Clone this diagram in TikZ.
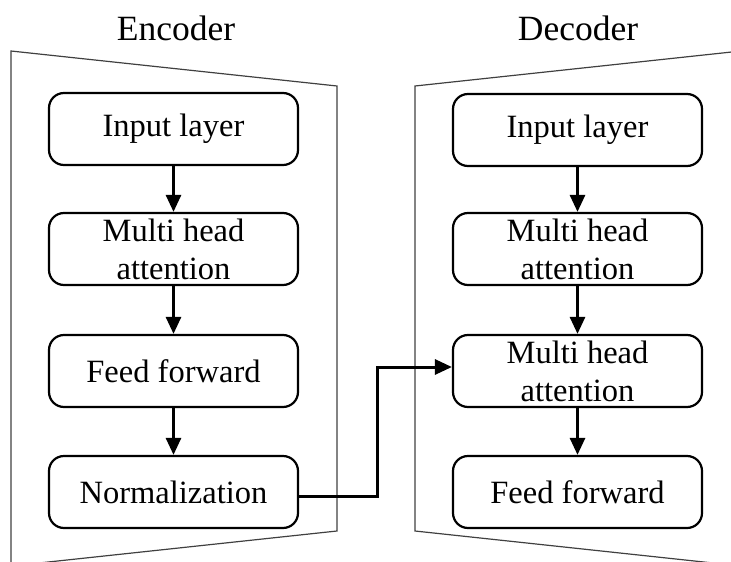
\documentclass[tikz,border=0pt]{standalone}
\usepackage{fontspec}
\setmainfont{Liberation Serif}
\usetikzlibrary{arrows.meta}

\begin{document}
\begin{tikzpicture}[x=1pt,y=-1pt,
  block/.style={draw, line width=2.2pt, rounded corners=15pt,
    minimum width=249pt, minimum height=72pt, align=center,
    font=\fontsize{32.5}{38}\selectfont, inner sep=0pt},
  frame/.style={draw, line width=1.2pt, black!75},
  title/.style={font=\fontsize{35.5}{40}\selectfont, anchor=base},
  flow/.style={line width=2.8pt, -{Triangle[length=17pt,width=15pt]}}]

\useasboundingbox (0,0) rectangle (731,562);
\clip (0,0) rectangle (731,562);

% housings of the two stacks
\draw[frame] (11,51) -- (337,86) -- (337,531) -- (11,566) -- cycle;
\draw[frame] (741,51) -- (415,86) -- (415,531) -- (741,566) -- cycle;

% headings
\node[title] (enct) at (176,40) {Encoder};
\node[title] (dect) at (578,40) {Decoder};

% encoder stack
\node[block] (e1) at (173.5,129) {Input layer};
\node[block] (e2) at (173.5,249) {Multi head\\attention};
\node[block] (e3) at (173.5,371) {Feed forward};
\node[block] (e4) at (173.5,492) {Normalization};

% decoder stack
\node[block] (d1) at (577.5,130) {Input layer};
\node[block] (d2) at (577.5,249) {Multi head\\attention};
\node[block] (d3) at (577.5,371) {Multi head\\attention};
\node[block] (d4) at (577.5,492) {Feed forward};

% vertical flow
\draw[flow] (e1) -- (e2);
\draw[flow] (e2) -- (e3);
\draw[flow] (e3) -- (e4);
\draw[flow] (d1) -- (d2);
\draw[flow] (d2) -- (d3);
\draw[flow] (d3) -- (d4);

% cross connection encoder -> decoder
\coordinate (c1) at ([yshift=-4pt]e4.east);
\coordinate (c2) at ([yshift=4pt]d3.west);
\draw[flow, line width=3pt] (c1) -- (377,496) -- (377,367) -- (c2);
\end{tikzpicture}
\end{document}
